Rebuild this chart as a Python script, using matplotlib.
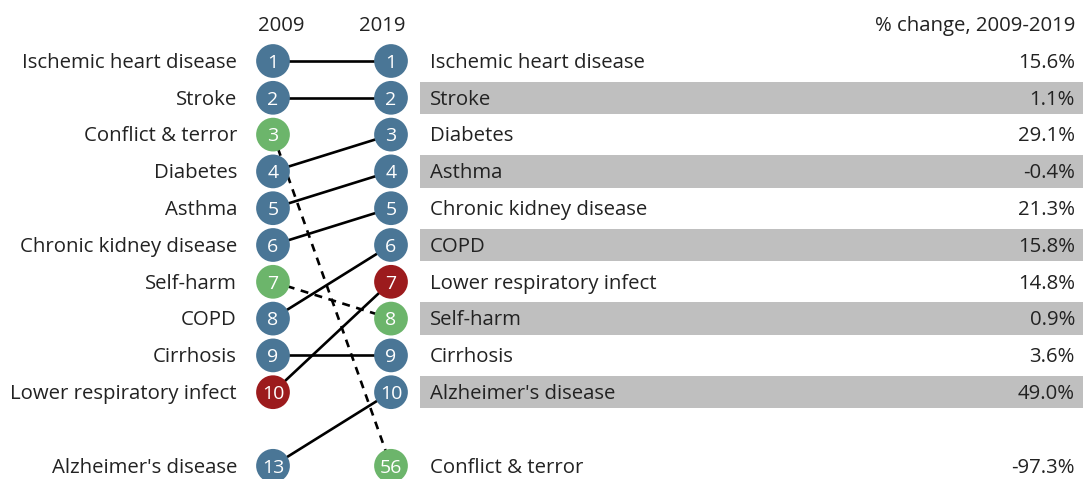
import matplotlib
matplotlib.use('Agg')
import matplotlib.pyplot as plt

# data ==========================================================
causes = ['Ischemic heart disease', 'Stroke', 'Conflict & terror', 'Diabetes',
          'Asthma', 'Chronic kidney disease', 'Self-harm', 'COPD', 'Cirrhosis',
          'Lower respiratory infect', "Alzheimer's disease"]
rank_2009 = [1, 2, 3, 4, 5, 6, 7, 8, 9, 10, 13]
rank_2019 = [1, 2, 56, 3, 4, 5, 8, 6, 9, 7, 10]
pct_change = [15.6, 1.1, -97.3, 29.1, -0.4, 21.3, 0.9, 15.8, 3.6, 14.8, 49.0]
group = ['other', 'other', 'injury', 'other', 'other', 'other', 'injury',
         'other', 'other', 'infect', 'other']

colors = {'other': '#4a7696', 'injury': '#6cb56b', 'infect': '#9c1b1d'}
txt_col = '#222222'
fs = 14.7
dy = 0.05  # nudge text down a touch to sit on the row centre

def slot(r):
    # ranks beyond top 10 sit one row below the list
    return r if r <= 10 else 12

x09, x19 = 273, 391

plt.rcParams['font.family'] = ['Open Sans', 'DejaVu Sans']
fig = plt.figure(figsize=(10.86, 4.79), dpi=100)
ax = fig.add_axes([0, 0, 1, 1])
ax.set_xlim(0, 1086)
ax.set_ylim(1 + (479 - 61) / 36.8, 1 - 61 / 36.8)
ax.axis('off')

# lines between ranks
for i in range(len(causes)):
    if group[i] == 'injury':
        ax.plot([x09, x19], [slot(rank_2009[i]), slot(rank_2019[i])],
                color='black', lw=1.9, ls='--', dashes=(3, 2.5), zorder=1)
    else:
        ax.plot([x09, x19], [slot(rank_2009[i]), slot(rank_2019[i])],
                color='black', lw=1.9, zorder=1)

# circles
ax.scatter([x09] * len(causes), [slot(r) for r in rank_2009],
           s=590, c=[colors[g] for g in group], zorder=3, linewidths=0)
ax.scatter([x19] * len(causes), [slot(r) for r in rank_2019],
           s=590, c=[colors[g] for g in group], zorder=3, linewidths=0)

for i, name in enumerate(causes):
    y09 = slot(rank_2009[i])
    y19 = slot(rank_2019[i])
    ax.text(x09, y09 + dy, str(rank_2009[i]), color='white', ha='center', va='center',
            fontsize=14, zorder=4)
    ax.text(x19, y19 + dy, str(rank_2019[i]), color='white', ha='center', va='center',
            fontsize=14, zorder=4)
    ax.text(237, y09 + dy, name, ha='right', va='center', fontsize=fs, color=txt_col)

# right hand table, ordered by 2019 rank
order = sorted(range(len(causes)), key=lambda k: rank_2019[k])
for j, i in enumerate(order):
    y = slot(rank_2019[i])
    if j % 2 == 1:
        ax.fill_between([420, 1083], y - 0.44, y + 0.44, color='#bfbfbf', lw=0, zorder=0)
    ax.text(430, y + dy, causes[i], ha='left', va='center', fontsize=fs, color=txt_col)
    ax.text(1075, y + dy, f'{pct_change[i]:.1f}%', ha='right', va='center',
            fontsize=fs, color=txt_col)

# headers
ax.text(281, dy, '2009', ha='center', va='center', fontsize=fs, color=txt_col)
ax.text(382, dy, '2019', ha='center', va='center', fontsize=fs, color=txt_col)
ax.text(1075, dy, '% change, 2009-2019', ha='right', va='center', fontsize=fs, color=txt_col)

fig.savefig('out.png', dpi=100)
